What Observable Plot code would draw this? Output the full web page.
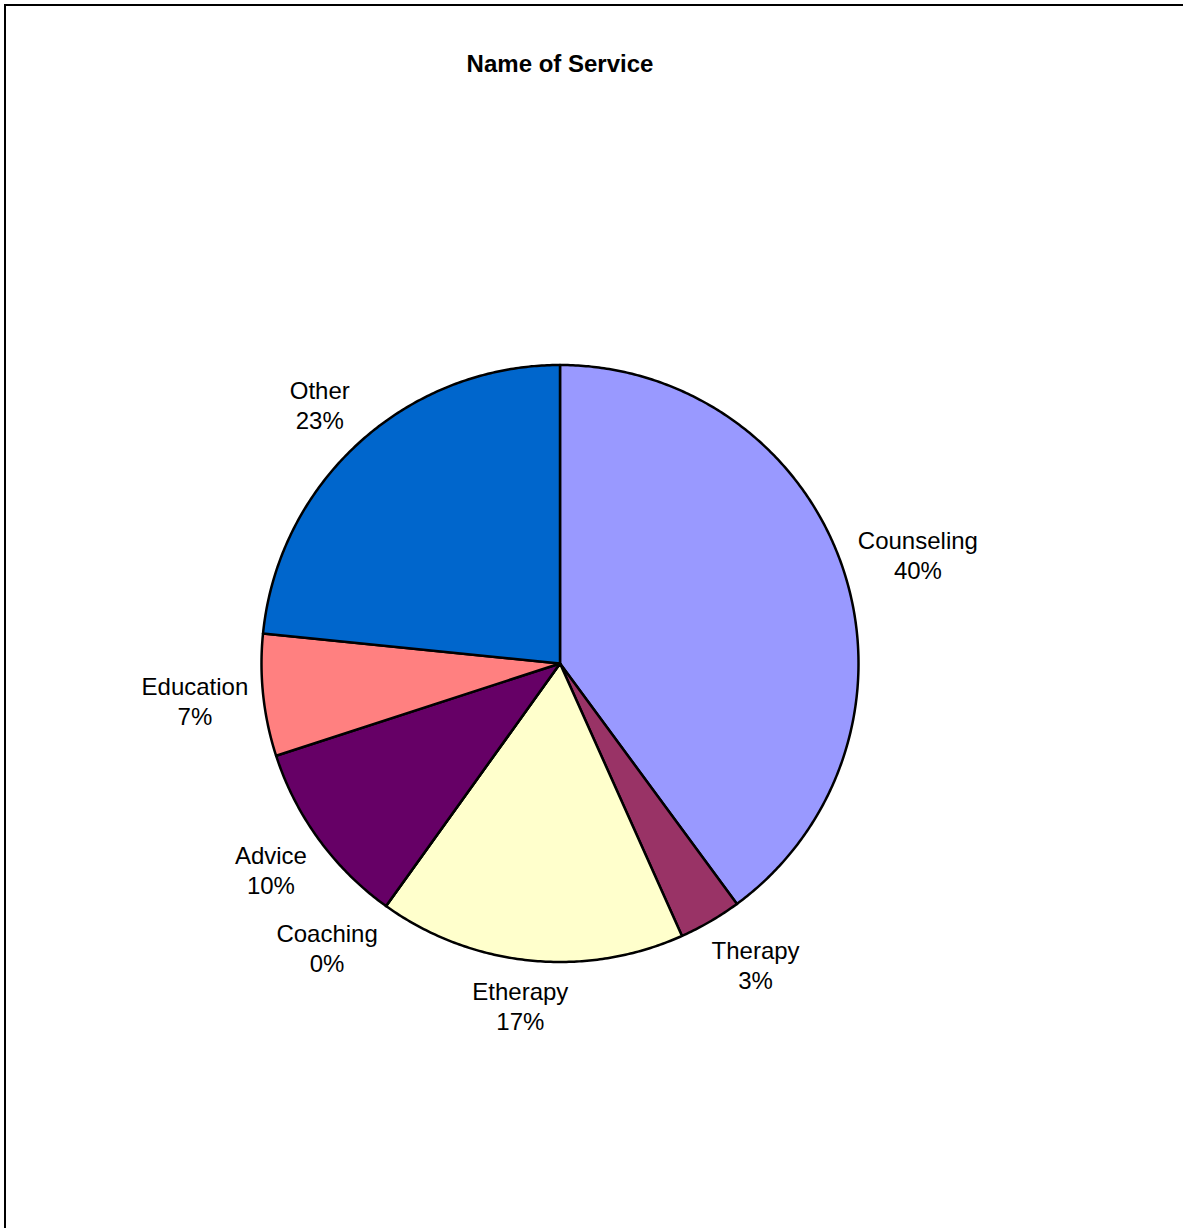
<!DOCTYPE html>
<html>
<head>
<meta charset="utf-8">
<script src="https://cdn.jsdelivr.net/npm/d3@7"></script>
<script src="https://cdn.jsdelivr.net/npm/@observablehq/plot@0.6"></script>
<style>
  html, body { margin: 0; padding: 0; background: #fff; overflow: hidden; }
  body { width: 1183px; height: 1228px; position: relative; font-family: "Liberation Sans", Arial, sans-serif; }
  #frame { position: absolute; left: 4px; top: 4px; width: 2000px; height: 2000px;
           border-left: 2px solid #000; border-top: 2px solid #000; pointer-events: none; }
  #title { width: 1120px; height: 100px; box-sizing: border-box; padding-top: 52px;
           text-align: center; font-weight: bold; font-size: 24px; line-height: 24px; color: #000; }
</style>
</head>
<body>
<div id="title">Name of Service</div>
<div id="chart"></div>
<div id="frame"></div>
<script>
const categories = ["Counseling", "Therapy", "Etherapy", "Coaching", "Advice", "Education", "Other"];
const values = [39.9, 3.4, 16.6, 0, 10.1, 6.6, 23.4];
const colors = ["#9999FF", "#993366", "#FFFFCC", "#CCFFFF", "#660066", "#FF8080", "#0066CC"];

const W = 1183, H = 1128;
const cx = 559.5, cy = 563, R = 298.5;
const fontSize = 24, lineH = 30, gap = 15, kx = 1.7, ky = 1.2;

const total = d3.sum(values);
const arcs = d3.pie().sort(null).value(d => d)(values);

// polygon outline points for each slice (unit circle, angles clockwise from top)
const pts = [];
arcs.forEach((a, i) => {
  const name = categories[i], color = colors[i];
  pts.push({name, color, x: 0, y: 0});
  const n = Math.max(2, Math.ceil((a.endAngle - a.startAngle) / (2 * Math.PI) * 720));
  for (let j = 0; j <= n; j++) {
    const t = a.startAngle + (a.endAngle - a.startAngle) * j / n;
    pts.push({name, color, x: Math.sin(t), y: Math.cos(t)});
  }
  pts.push({name, color, x: 0, y: 0});
});

// label positions from mid angles and measured label sizes
const ctx = document.createElement("canvas").getContext("2d");
ctx.font = `${fontSize}px "Liberation Sans", Arial, sans-serif`;
const clamp = v => Math.max(-1, Math.min(1, v));
const labelData = arcs.map((a, i) => {
  const pct = Math.round(values[i] / total * 100) + "%";
  const text = categories[i] + "\n" + pct;
  const w = Math.max(ctx.measureText(categories[i]).width, ctx.measureText(pct).width);
  const h = 2 * lineH;
  const m = (a.startAngle + a.endAngle) / 2;
  const s = Math.sin(m), c = Math.cos(m);
  return {
    text,
    x: ((R + gap) * s + (w / 2) * clamp(kx * s)) / R,
    y: ((R + gap) * c + (h / 2) * clamp(ky * c)) / R
  };
});

const chart = Plot.plot({
  width: W,
  height: H,
  margin: 0,
  style: {fontFamily: '"Liberation Sans", Arial, sans-serif', background: "transparent", overflow: "visible"},
  x: {domain: [-1, 1], range: [cx - R, cx + R], axis: null},
  y: {domain: [-1, 1], range: [cy + R, cy - R], axis: null},
  color: {type: "identity"},
  marks: [
    Plot.line(pts, {x: "x", y: "y", z: "name", fill: "color", stroke: "#000",
      strokeWidth: 2.5, strokeLinejoin: "round", curve: "linear"}),
    Plot.text(labelData, {x: "x", y: "y", text: "text", fontSize: fontSize,
      lineHeight: lineH / fontSize, fill: "#000", textAnchor: "middle"})
  ]
});
document.getElementById("chart").appendChild(chart);
</script>
</body>
</html>
